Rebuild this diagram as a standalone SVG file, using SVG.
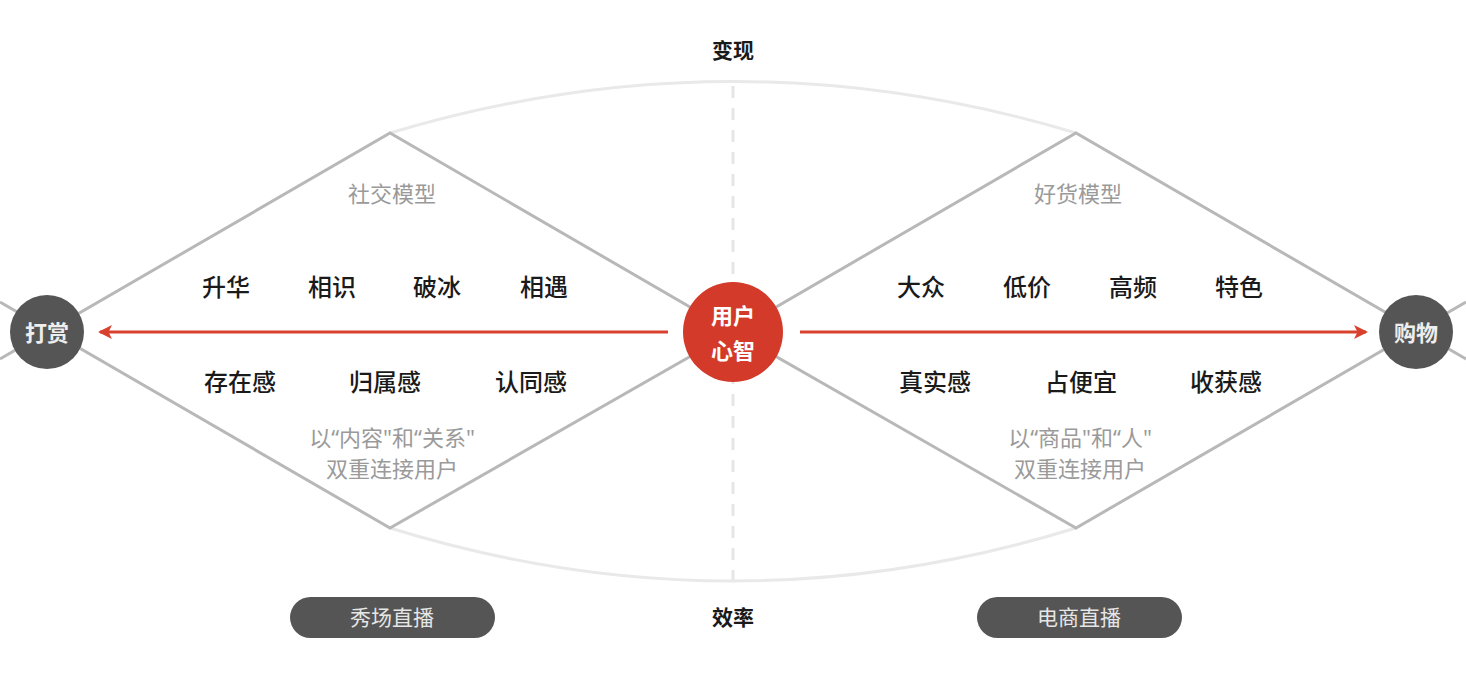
<svg xmlns="http://www.w3.org/2000/svg" width="1466" height="692" viewBox="0 0 1466 692">
<style>
text{font-family:"Noto Sans CJK SC","Noto Sans",sans-serif;text-anchor:middle;dominant-baseline:central}
.edge{stroke:#b8b8b8;stroke-width:3;fill:none}
.arc{stroke:#e9e9e9;stroke-width:3;fill:none}
.word{font-size:24px;font-weight:500;fill:#1a1a1a}
.cap{font-size:22px;fill:#9a9a9a;font-family:"Noto Sans","Noto Sans CJK SC",sans-serif}
.axis{font-size:21px;font-weight:700;fill:#1a1a1a}
.dark{fill:#555555}
.ctext{font-size:22px;font-weight:700;fill:#eeeeee}
.ptext{font-size:21px;fill:#e6e6e6}
.red{stroke:#d9412f;stroke-width:3;fill:none}
</style>
<defs>
<marker id="ah" viewBox="0 0 14 14" refX="12" refY="7" markerWidth="14" markerHeight="14" markerUnits="userSpaceOnUse" orient="auto">
<path d="M0,0 L14,7 L0,14 L3.5,7 Z" fill="#d9412f"/>
</marker>
</defs>
<g id="connectors">
<path class="arc" d="M390,133 Q733,30 1076,133"/>
<path class="arc" d="M390,528 Q733,634 1076,528"/>
<line x1="733" y1="86" x2="733" y2="580" stroke="#e6e6e6" stroke-width="3" stroke-dasharray="12,10"/>
<path class="edge" d="M0,359 L390,133 L733,332 L390,528 L0,302"/>
<path class="edge" d="M1466,359 L1076,133 L733,332 L1076,528 L1466,302"/>
<line class="red" x1="668" y1="332" x2="100" y2="332" marker-end="url(#ah)"/>
<line class="red" x1="800" y1="332" x2="1366" y2="332" marker-end="url(#ah)"/>
</g>
<g id="node-dashang">
<circle cx="47" cy="332" r="37" class="dark"/>
<text x="47" y="331" class="ctext">打赏</text>
</g>
<g id="node-gouwu">
<circle cx="1416" cy="332" r="37" class="dark"/>
<text x="1416" y="331" class="ctext">购物</text>
</g>
<g id="node-user">
<circle cx="733" cy="332" r="50" fill="#d33a2a"/>
<text x="733" y="314" class="ctext" style="fill:#fff">用户</text>
<text x="733" y="349" class="ctext" style="fill:#fff">心智</text>
</g>
<g id="label-bianxian"><text x="733" y="49" class="axis">变现</text></g>
<g id="label-xiaolv"><text x="733" y="616" class="axis">效率</text></g>
<g id="left-model">
<text x="392" y="193" class="cap">社交模型</text>
<text x="226" y="285" class="word">升华</text>
<text x="332" y="285" class="word">相识</text>
<text x="437" y="285" class="word">破冰</text>
<text x="544" y="285" class="word">相遇</text>
<text x="240" y="380" class="word">存在感</text>
<text x="385" y="380" class="word">归属感</text>
<text x="531" y="380" class="word">认同感</text>
<text x="392" y="437" class="cap">以“内容"和“关系"</text>
<text x="392" y="468" class="cap">双重连接用户</text>
</g>
<g id="right-model">
<text x="1078" y="193" class="cap">好货模型</text>
<text x="921" y="285" class="word">大众</text>
<text x="1027" y="285" class="word">低价</text>
<text x="1133" y="285" class="word">高频</text>
<text x="1239" y="285" class="word">特色</text>
<text x="935" y="380" class="word">真实感</text>
<text x="1081" y="380" class="word">占便宜</text>
<text x="1226" y="380" class="word">收获感</text>
<text x="1080" y="437" class="cap">以“商品"和“人"</text>
<text x="1080" y="468" class="cap">双重连接用户</text>
</g>
<g id="pill-xiuchang">
<rect x="290" y="597" width="205" height="41" rx="20.5" class="dark"/>
<text x="392" y="616" class="ptext">秀场直播</text>
</g>
<g id="pill-dianshang">
<rect x="977" y="597" width="205" height="41" rx="20.5" class="dark"/>
<text x="1079" y="616" class="ptext">电商直播</text>
</g>
</svg>
